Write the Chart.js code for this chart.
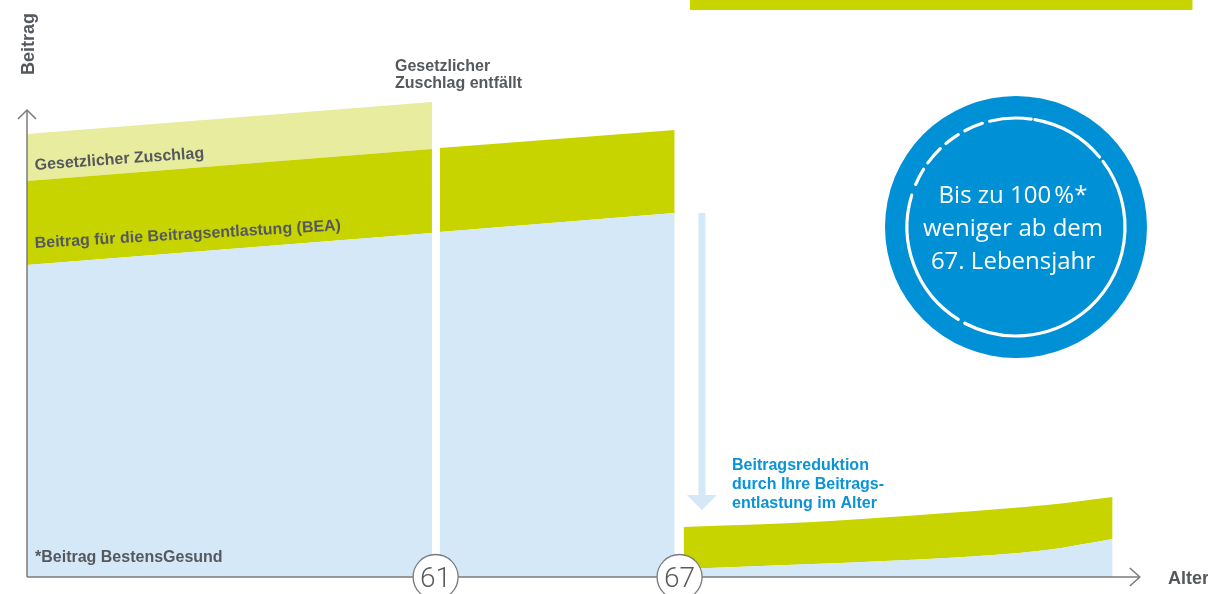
<!DOCTYPE html>
<html><head><meta charset="utf-8">
<style>html,body{margin:0;padding:0;background:#fff;overflow:hidden}#wrap{position:relative;width:1208px;height:594px}</style>
<script src="https://cdn.jsdelivr.net/npm/chart.js@4.4.1/dist/chart.umd.min.js"></script>
</head><body><div id="wrap"><canvas id="c" width="1208" height="594"></canvas></div>
<script>
// ---- data (age in years, contribution in arbitrary units) ----
const agesSeg1 = [50.95, 60.91];
const basisSeg1 = [312, 344];
const beaSeg1 = [396, 428];
const zuschlagSeg1 = [443, 475];
const agesSeg2 = [61.1, 66.88];
const basisSeg2 = [345, 364];
const beaSeg2 = [429, 447];
const agesSeg3 = [67.1, 70.28, 73.57, 76.03, 77.65];
const basisSeg3 = [8, 13, 19, 27, 38];
const beaSeg3 = [50, 55, 64, 72, 80];
const agesTopBand = [67.25, 79.62];
const topBandLow = [567, 567];
const topBandHigh = [577, 577];
const markedAges = ['61', '67'];
const xRange = [50.95, 79.8];
const yRange = [0, 577];
const axisEndAge = 78.32;
const axisTopValue = 467;
const labelTexts = {
  yTitle: 'Beitrag', xTitle: 'Alter',
  zuschlag: 'Gesetzlicher Zuschlag',
  bea: 'Beitrag für die Beitragsentlastung (BEA)',
  basis: '*Beitrag BestensGesund',
  entfaellt: ['Gesetzlicher', 'Zuschlag entfällt'],
  reduktion: ['Beitragsreduktion', 'durch Ihre Beitrags-', 'entlastung im Alter'],
  badge: ['Bis zu 100\u202F%*', 'weniger ab dem', '67. Lebensjahr']
};

const BLUE = '#d4e8f8', GREEN = '#c8d400', YELLOW = '#e8ec9e';
const pts = (xs, ys) => xs.map((x, i) => ({x, y: ys[i]}));
const base = {pointRadius: 0, borderWidth: 0, tension: 0};

const datasets = [
  {...base, data: pts(agesSeg1, basisSeg1), backgroundColor: BLUE, fill: 'origin'},
  {...base, data: pts(agesSeg1, beaSeg1), backgroundColor: GREEN, fill: '-1'},
  {...base, data: pts(agesSeg1, zuschlagSeg1), backgroundColor: YELLOW, fill: '-1'},
  {...base, data: pts(agesSeg2, basisSeg2), backgroundColor: BLUE, fill: 'origin'},
  {...base, data: pts(agesSeg2, beaSeg2), backgroundColor: GREEN, fill: '-1'},
  {...base, data: pts(agesSeg3, basisSeg3), backgroundColor: BLUE, fill: 'origin', cubicInterpolationMode: 'monotone'},
  {...base, data: pts(agesSeg3, beaSeg3), backgroundColor: GREEN, fill: '-1', cubicInterpolationMode: 'monotone'},
  {...base, data: pts(agesTopBand, topBandLow), backgroundColor: GREEN, fill: false},
  {...base, data: pts(agesTopBand, topBandHigh), backgroundColor: GREEN, fill: '-1'}
];

const TXT = '#55595e', AX = '#7b7b7b';
const deco = {
  id: 'deco',
  afterDatasetsDraw(chart) {
    const ctx = chart.ctx, xs = chart.scales.x, ys = chart.scales.y;
    const x0 = xs.getPixelForValue(xRange[0]), y0 = ys.getPixelForValue(0);
    const yTop = ys.getPixelForValue(axisTopValue), xEnd = xs.getPixelForValue(axisEndAge);
    ctx.save();
    // axes
    ctx.strokeStyle = AX; ctx.lineWidth = 1.5;
    ctx.beginPath(); ctx.moveTo(x0, y0); ctx.lineTo(x0, yTop); ctx.stroke();
    ctx.beginPath(); ctx.moveTo(x0 - 9, yTop + 9); ctx.lineTo(x0, yTop); ctx.lineTo(x0 + 9, yTop + 9); ctx.stroke();
    ctx.beginPath(); ctx.moveTo(x0, y0); ctx.lineTo(xEnd, y0); ctx.stroke();
    ctx.beginPath(); ctx.moveTo(xEnd - 10, y0 - 9); ctx.lineTo(xEnd, y0); ctx.lineTo(xEnd - 10, y0 + 9); ctx.stroke();
    // age markers
    markedAges.forEach(a => {
      const cx = xs.getPixelForValue(+a);
      ctx.beginPath(); ctx.arc(cx, y0, 22.5, 0, Math.PI * 2);
      ctx.fillStyle = '#fff'; ctx.fill(); ctx.lineWidth = 1.3; ctx.strokeStyle = AX; ctx.stroke();
      ctx.fillStyle = '#5a5a5a'; ctx.font = '300 28px Roboto, "Open Sans", sans-serif';
      ctx.textAlign = 'center'; ctx.textBaseline = 'alphabetic';
      ctx.fillText(a, cx, y0 + 10);
    });
    // axis titles
    ctx.fillStyle = TXT; ctx.font = 'bold 18px "Liberation Sans", Arial, sans-serif';
    ctx.save(); ctx.translate(x0 + 7, 44); ctx.rotate(-Math.PI / 2);
    ctx.textAlign = 'center'; ctx.fillText(labelTexts.yTitle, 0, 0); ctx.restore();
    ctx.textAlign = 'left'; ctx.fillText(labelTexts.xTitle, 1168, 584);
    // area labels
    ctx.font = 'bold 16px "Liberation Sans", Arial, sans-serif';
    ctx.save(); ctx.translate(35, 170); ctx.rotate(-0.072); ctx.fillText(labelTexts.zuschlag, 0, 0); ctx.restore();
    ctx.save(); ctx.translate(35, 248); ctx.rotate(-0.058); ctx.fillText(labelTexts.bea, 0, 0); ctx.restore();
    ctx.fillText(labelTexts.basis, 35, 562);
    labelTexts.entfaellt.forEach((t, i) => ctx.fillText(t, 395, 71 + i * 17));
    ctx.fillStyle = '#0b93d7';
    labelTexts.reduktion.forEach((t, i) => ctx.fillText(t, 732, 470 + i * 19));
    // downward arrow
    const ax = xs.getPixelForValue(67.55), ay1 = ys.getPixelForValue(basisSeg2[1]), ay2 = ys.getPixelForValue(67);
    ctx.fillStyle = BLUE;
    ctx.fillRect(ax - 3.5, ay1, 7, ay2 - 15 - ay1);
    ctx.beginPath(); ctx.moveTo(ax - 15, ay2 - 15); ctx.lineTo(ax + 15, ay2 - 15); ctx.lineTo(ax, ay2); ctx.closePath(); ctx.fill();
    // badge
    const bx = 1016, by = 227;
    ctx.beginPath(); ctx.arc(bx, by, 131, 0, Math.PI * 2); ctx.fillStyle = '#0090d6'; ctx.fill();
    ctx.strokeStyle = '#fff'; ctx.lineWidth = 3.2; ctx.lineCap = 'round';
    const segs = [[-80, -40], [-37, 118], [122, 197], [203, 212], [216, 226], [230, 238], [242, 252], [256, 278]];
    segs.forEach(([a, b]) => { ctx.beginPath(); ctx.arc(bx, by, 109, a * Math.PI / 180, b * Math.PI / 180); ctx.stroke(); });
    ctx.fillStyle = '#fff'; ctx.font = '24px "Open Sans", sans-serif'; ctx.textAlign = 'center';
    labelTexts.badge.forEach((t, i) => ctx.fillText(t, bx - 3, 203 + i * 33));
    ctx.restore();
  }
};

new Chart(document.getElementById('c'), {
  type: 'line',
  data: {datasets},
  options: {
    responsive: false, animation: false,
    layout: {padding: {left: 27, right: 8, top: 0, bottom: 17}},
    plugins: {legend: {display: false}, tooltip: {enabled: false}},
    scales: {
      x: {type: 'linear', min: xRange[0], max: xRange[1], display: false},
      y: {type: 'linear', min: yRange[0], max: yRange[1], display: false}
    }
  },
  plugins: [deco]
});
</script></body></html>
